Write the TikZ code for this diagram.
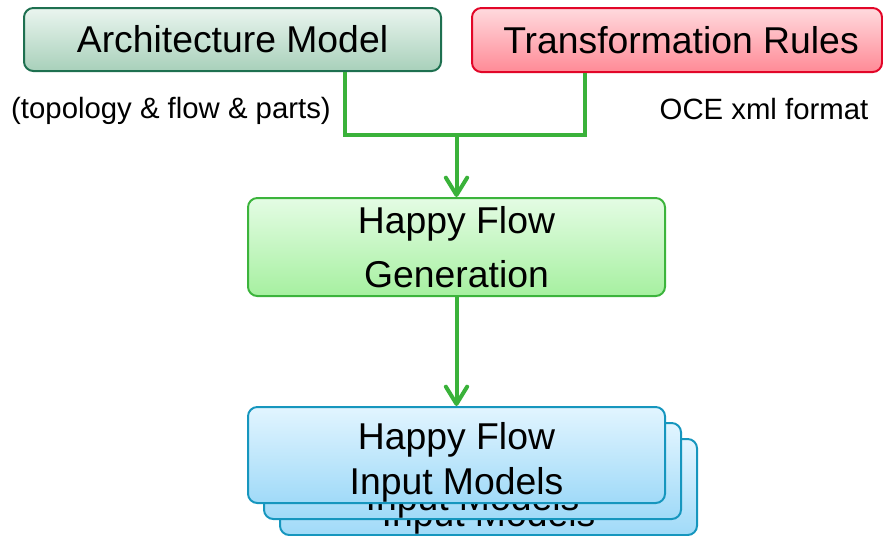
\documentclass[tikz,border=0pt]{standalone}
\usepackage{fontspec}
\setmainfont{Liberation Sans}
\usetikzlibrary{arrows.meta,positioning}
\definecolor{archline}{RGB}{30,112,80}
\definecolor{archtop}{RGB}{234,245,239}
\definecolor{archbot}{RGB}{168,208,186}
\definecolor{ruleline}{RGB}{226,6,40}
\definecolor{ruletop}{RGB}{255,218,222}
\definecolor{rulebot}{RGB}{255,138,150}
\definecolor{genline}{RGB}{60,180,60}
\definecolor{gentop}{RGB}{228,252,228}
\definecolor{genbot}{RGB}{166,240,160}
\definecolor{inline}{RGB}{22,150,190}
\definecolor{intop}{RGB}{226,245,255}
\definecolor{inbot}{RGB}{160,218,248}
\definecolor{flowgreen}{RGB}{58,178,58}
\newcommand{\hfmodels}{\rule{0pt}{31pt}Happy Flow\\Input Models}

\begin{document}
\begin{tikzpicture}[
  x=0.75pt,y=-0.75pt,
  box/.style={rounded corners=7pt,line width=1.5pt,inner sep=0pt,align=center,
    minimum width=312.75pt,font=\fontsize{28}{34}\selectfont},
  archbox/.style={box,draw=archline,top color=archtop,bottom color=archbot,minimum height=47.25pt},
  rulebox/.style={box,draw=ruleline,top color=ruletop,bottom color=rulebot,minimum height=48pt,minimum width=307.5pt},
  genbox/.style={box,draw=genline,top color=gentop,bottom color=genbot,minimum height=73.5pt,
    font=\fontsize{28}{40.5}\selectfont},
  inbox/.style={box,draw=inline,top color=intop,bottom color=inbot,minimum height=72pt},
  note/.style={font=\fontsize{22}{26}\selectfont,inner sep=0pt},
  flow/.style={draw=flowgreen,line width=3pt},
  flowarrow/.style={flow,-{Straight Barb[length=13pt,width=16pt,round]}}
]
\useasboundingbox (0,0) rectangle (883,536);

\node (arch) [archbox] at (232.5,39.5) {Architecture Model};
\node (rules) [rulebox] at (677,40) {\hspace{6pt}Transformation Rules};
\node (archnote) [note] at (171,111) {(topology \& flow \& parts)};
\node (rulesnote) [note] at (764,109) {OCE xml format};

\node (gen) [genbox] at (456.5,247) {Happy Flow\\Generation};

% stacked output models, back to front
\node (input3) [inbox] at (488.5,487) {\hfmodels};
\node (input2) [inbox] at (472.5,471) {\hfmodels};
\node (input1) [inbox] at (456.5,455) {\hfmodels};

\coordinate (join) at (456.5,135);
\draw[flow] ([xshift=84.4pt]arch.south) |- (join) -| ([xshift=-69pt]rules.south);
\draw[flowarrow] (join) -- (gen.north);
\draw[flowarrow] (gen.south) -- (input1.north);

\end{tikzpicture}
\end{document}
